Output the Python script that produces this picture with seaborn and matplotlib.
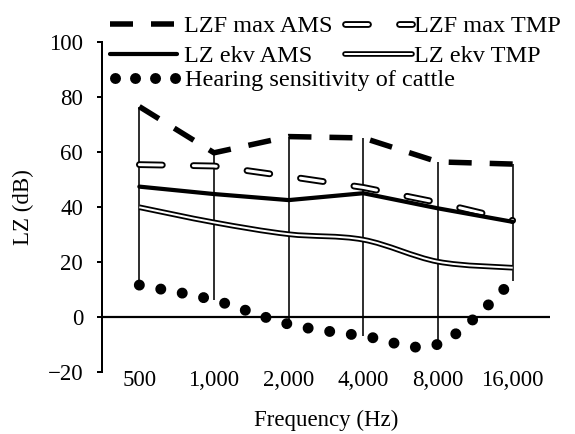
import numpy as np
import matplotlib
matplotlib.use("Agg")
import matplotlib.pyplot as plt
import matplotlib.patheffects as pe
from matplotlib.path import Path
from matplotlib.patches import PathPatch
from matplotlib.lines import Line2D
import seaborn as sns

# ---- data ----
freq_labels = ["500", "1,000", "2,000", "4,000", "8,000", "16,000"]
lzf_max_ams = [76.4, 59.6, 65.5, 65.0, 56.3, 55.5]
lzf_max_tmp = [55.3, 54.8, 51.0, 47.0, 41.5, 35.0]
lz_ekv_ams = [47.3, 44.6, 42.4, 44.9, 39.4, 34.5]
lz_ekv_tmp = [39.8, 34.3, 30.0, 28.0, 20.0, 17.8]
hearing_cattle = [11.5, 6.0, -2.7, -7.0, -10.0, 13.0]
y_ticks = [-20, 0, 20, 40, 60, 80, 100]

sns.set_theme(style="white")
plt.rcParams["font.family"] = ["Liberation Serif", "DejaVu Serif"]
plt.rcParams["lines.scale_dashes"] = False
for k in ["text.color", "axes.labelcolor", "xtick.color", "ytick.color", "axes.edgecolor"]:
    plt.rcParams[k] = "black"

FS = 16.5
LFS = 17.5
PX = 72 / 100.0  # points per pixel

fig = plt.figure(figsize=(5.75, 4.34), dpi=100)
fig.patch.set_facecolor("white")
ax = fig.add_axes([102 / 575, 1 - 371.7 / 434, (550 - 102) / 575, (371.7 - 41.7) / 434])

xpos = np.arange(len(freq_labels))


def smooth_path(xs, ys):
    pts = list(zip(xs, ys))
    n = len(pts)
    verts = [pts[0]]
    codes = [Path.MOVETO]
    for i in range(n - 1):
        p0 = pts[i - 1] if i > 0 else pts[i]
        p1 = pts[i]
        p2 = pts[i + 1]
        p3 = pts[i + 2] if i + 2 < n else pts[i + 1]
        c1 = (p1[0] + (p2[0] - p0[0]) / 6, p1[1] + (p2[1] - p0[1]) / 6)
        c2 = (p2[0] - (p3[0] - p1[0]) / 6, p2[1] - (p3[1] - p1[1]) / 6)
        verts += [c1, c2, p2]
        codes += [Path.CURVE4] * 3
    return Path(verts, codes)


# high-low lines
all_series = np.array([lzf_max_ams, lzf_max_tmp, lz_ekv_ams, lz_ekv_tmp, hearing_cattle])
ax.vlines(xpos, all_series.min(axis=0), all_series.max(axis=0), color="black",
          lw=1.6 * PX, zorder=1)

# zero line
ax.axhline(0, color="black", lw=2.2 * PX, zorder=1.5)

# styles
ams_max_ls = (0, (23 * PX, 18 * PX))
tmp_max_ls = (0, (23 * PX, 31 * PX))
dot_ls = (0, (0.01, 21.8 * PX))
tmp_max_pe = [pe.Stroke(linewidth=6.8 * PX, foreground="black"), pe.Normal()]
tmp_ekv_pe = [pe.Stroke(linewidth=5.6 * PX, foreground="black"), pe.Normal()]

sns.lineplot(x=xpos, y=lzf_max_ams, ax=ax, color="black", lw=5.5 * PX,
             linestyle=ams_max_ls, dash_capstyle="butt", zorder=3)
sns.lineplot(x=xpos, y=lzf_max_tmp, ax=ax, color="white", lw=3.0 * PX,
             linestyle=tmp_max_ls, dash_capstyle="round",
             path_effects=tmp_max_pe, zorder=3)
sns.lineplot(x=xpos, y=lz_ekv_ams, ax=ax, color="black", lw=4.2 * PX, zorder=3)

# smoothed double line
p_tmp = smooth_path(xpos, lz_ekv_tmp)
ax.add_patch(PathPatch(p_tmp, fill=False, edgecolor="black", lw=5.6 * PX, zorder=3))
ax.add_patch(PathPatch(p_tmp, fill=False, edgecolor="white", lw=2.0 * PX, zorder=3.1))

# smoothed dotted hearing curve
p_hear = smooth_path(xpos, hearing_cattle)
ax.add_patch(PathPatch(p_hear, fill=False, edgecolor="black", lw=11 * PX,
                       linestyle=dot_ls, capstyle="round", zorder=3))

ax.set_xlim(-0.5, len(freq_labels) - 0.5)
ax.set_ylim(-20, 100)
ax.set_yticks(y_ticks)
ax.set_xticks(xpos)
ax.set_xticklabels(freq_labels)
ax.tick_params(axis="y", length=5 * PX, width=2 * PX, pad=10, direction="out",
               labelsize=FS, left=True)
ax.tick_params(axis="x", length=0, pad=-1, labelsize=FS, bottom=True)
for s in ["top", "right", "bottom"]:
    ax.spines[s].set_visible(False)
ax.spines["left"].set_linewidth(2 * PX)
ax.spines["left"].set_color("black")
ax.set_facecolor("white")
ax.grid(False)

ax.set_ylabel("LZ (dB)", fontsize=FS, labelpad=10)
ax.set_xlabel("Frequency (Hz)", fontsize=FS, labelpad=13)

# legend handles
h_max_ams = Line2D([], [], color="black", lw=5.5 * PX, linestyle=ams_max_ls, dash_capstyle="butt")
h_max_tmp = Line2D([], [], color="white", lw=3.0 * PX, linestyle=tmp_max_ls,
                   dash_capstyle="round", path_effects=tmp_max_pe)
h_ekv_ams = Line2D([], [], color="black", lw=4.2 * PX)
h_ekv_tmp = Line2D([], [], color="white", lw=2.0 * PX, solid_capstyle="round",
                   path_effects=tmp_ekv_pe)
h_hear = Line2D([], [], color="black", lw=11 * PX, linestyle=(0, (0.01, 20 * PX)),
                dash_capstyle="round")

em = LFS / PX  # pixels per em
common = dict(frameon=False, fontsize=LFS, borderpad=0, borderaxespad=0,
              handlelength=67 / em, loc="upper left")
fig.legend([h_max_ams, h_ekv_ams], ["LZF max AMS", "LZ ekv AMS"],
           bbox_to_anchor=(110 / 575, 1 - 15 / 434), handletextpad=7 / em,
           labelspacing=0.33, **common)
fig.legend([h_max_tmp, h_ekv_tmp], ["LZF max TMP", "LZ ekv TMP"],
           bbox_to_anchor=(345 / 575, 1 - 15 / 434), handletextpad=2 / em,
           labelspacing=0.33, **common)
fig.legend([h_hear], ["Hearing sensitivity of cattle"],
           bbox_to_anchor=(115 / 575, 1 - 69 / 434), handletextpad=3 / em, **common)

fig.savefig("out.png", dpi=100, facecolor="white")
